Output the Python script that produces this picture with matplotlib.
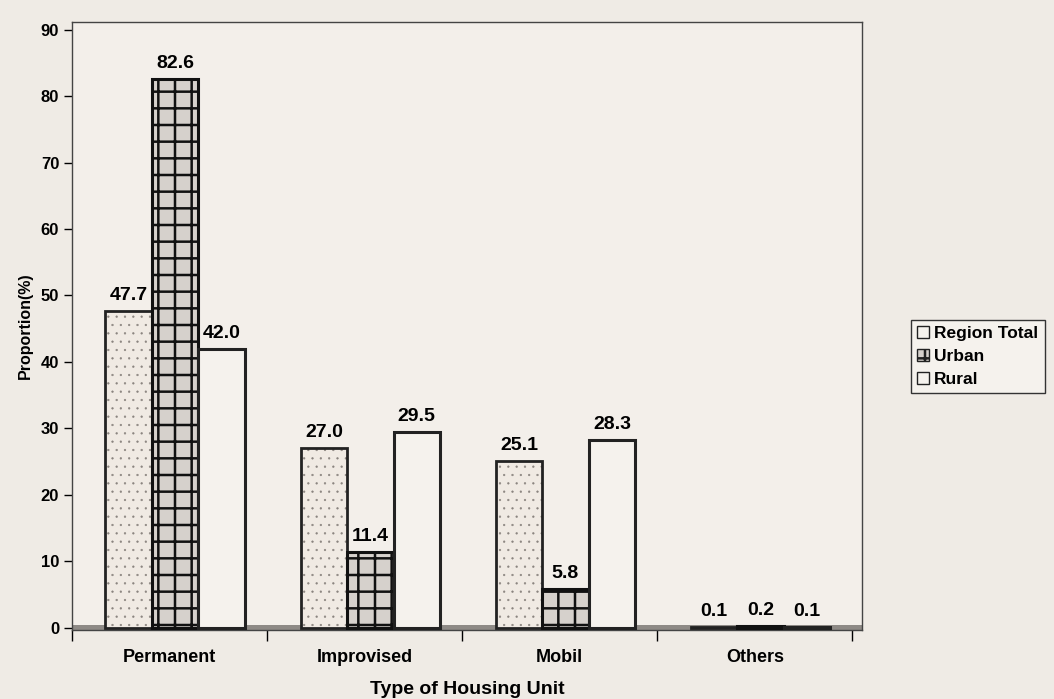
import numpy as np
import matplotlib
matplotlib.use("Agg")
from matplotlib import pyplot as plt
from matplotlib.patches import Patch

categories = ["Permanent", "Improvised", "Mobil", "Others"]
region_total = [47.7, 27.0, 25.1, 0.1]
urban = [82.6, 11.4, 5.8, 0.2]
rural = [42.0, 29.5, 28.3, 0.1]
series_names = ["Region Total", "Urban", "Rural"]

plt.rcParams['font.family'] = ['Liberation Sans', 'DejaVu Sans']
plt.rcParams['font.weight'] = 'bold'
plt.rcParams['hatch.linewidth'] = 1.8

paper = '#efebe5'
fig = plt.figure(figsize=(10.54, 6.99), dpi=100, facecolor=paper)
ax = fig.add_axes([0.068, 0.098, 0.75, 0.871])
ax.set_facecolor('#f3efea')

x = np.arange(len(categories)) + 0.03
w = 0.238

# floor of the 3d chart
ax.axhspan(-0.45, 0.35, color='#8e8a86', zorder=1, lw=0)

b1 = ax.bar(x - w, region_total, w, facecolor='#f0eae3', edgecolor='#8a847f',
            hatch='..', linewidth=0, zorder=2)
for p in b1:
    if hasattr(p, 'set_hatch_linewidth'):
        p.set_hatch_linewidth(0.4)
ax.bar(x - w, region_total, w, facecolor='none', edgecolor='#222222', linewidth=2, zorder=3)
ax.bar(x, urban, w, facecolor='#d6d1cc', edgecolor='#111111', hatch='+',
       linewidth=2.2, zorder=3)
ax.bar(x + w, rural, w, facecolor='#f5f2ed', edgecolor='#222222', linewidth=2.2, zorder=3)

for xs, vals in [(x - w, region_total), (x, urban), (x + w, rural)]:
    for xi, v in zip(xs, vals):
        ax.annotate(f"{v:.1f}", (xi, v), xytext=(0, 5), textcoords='offset points',
                    ha='center', va='bottom', fontsize=14, fontweight='bold', zorder=5)

ax.set_xlim(-0.5, 3.55)
ax.set_ylim(-0.45, 91.2)
ax.set_yticks(np.arange(0, 91, 10))
ax.tick_params(axis='y', length=6, width=1, labelsize=12, pad=3)
ax.set_xticks(np.arange(len(categories)))
ax.set_xticklabels(categories)
ax.set_xticks(np.arange(-0.5, 4, 1), minor=True)
ax.tick_params(axis='x', which='major', length=0, labelsize=13, pad=13)
ax.tick_params(axis='x', which='minor', length=8, width=1)
for s in ax.spines.values():
    s.set_color('#444444')
    s.set_linewidth(1)

ax.set_xlabel("Type of Housing Unit", fontsize=14, fontweight='bold', labelpad=11)
ax.set_ylabel("Proportion(%)", fontsize=11.5, fontweight='bold', labelpad=6)

handles = [Patch(facecolor='#f5f2ed', edgecolor='#222222', lw=1),
           Patch(facecolor='#d6d1cc', edgecolor='#222222', hatch='+', lw=1),
           Patch(facecolor='#f5f2ed', edgecolor='#222222', lw=1)]
fig.legend(handles, series_names, loc='upper left', bbox_to_anchor=(0.856, 0.555),
           fontsize=12.5, frameon=True, fancybox=False, edgecolor='#333333',
           facecolor='#f5f2ed', framealpha=1, handlelength=0.7, handleheight=0.7,
           handletextpad=0.3, labelspacing=0.45, borderpad=0.35)

plt.savefig('out.png', dpi=100, facecolor=paper)
